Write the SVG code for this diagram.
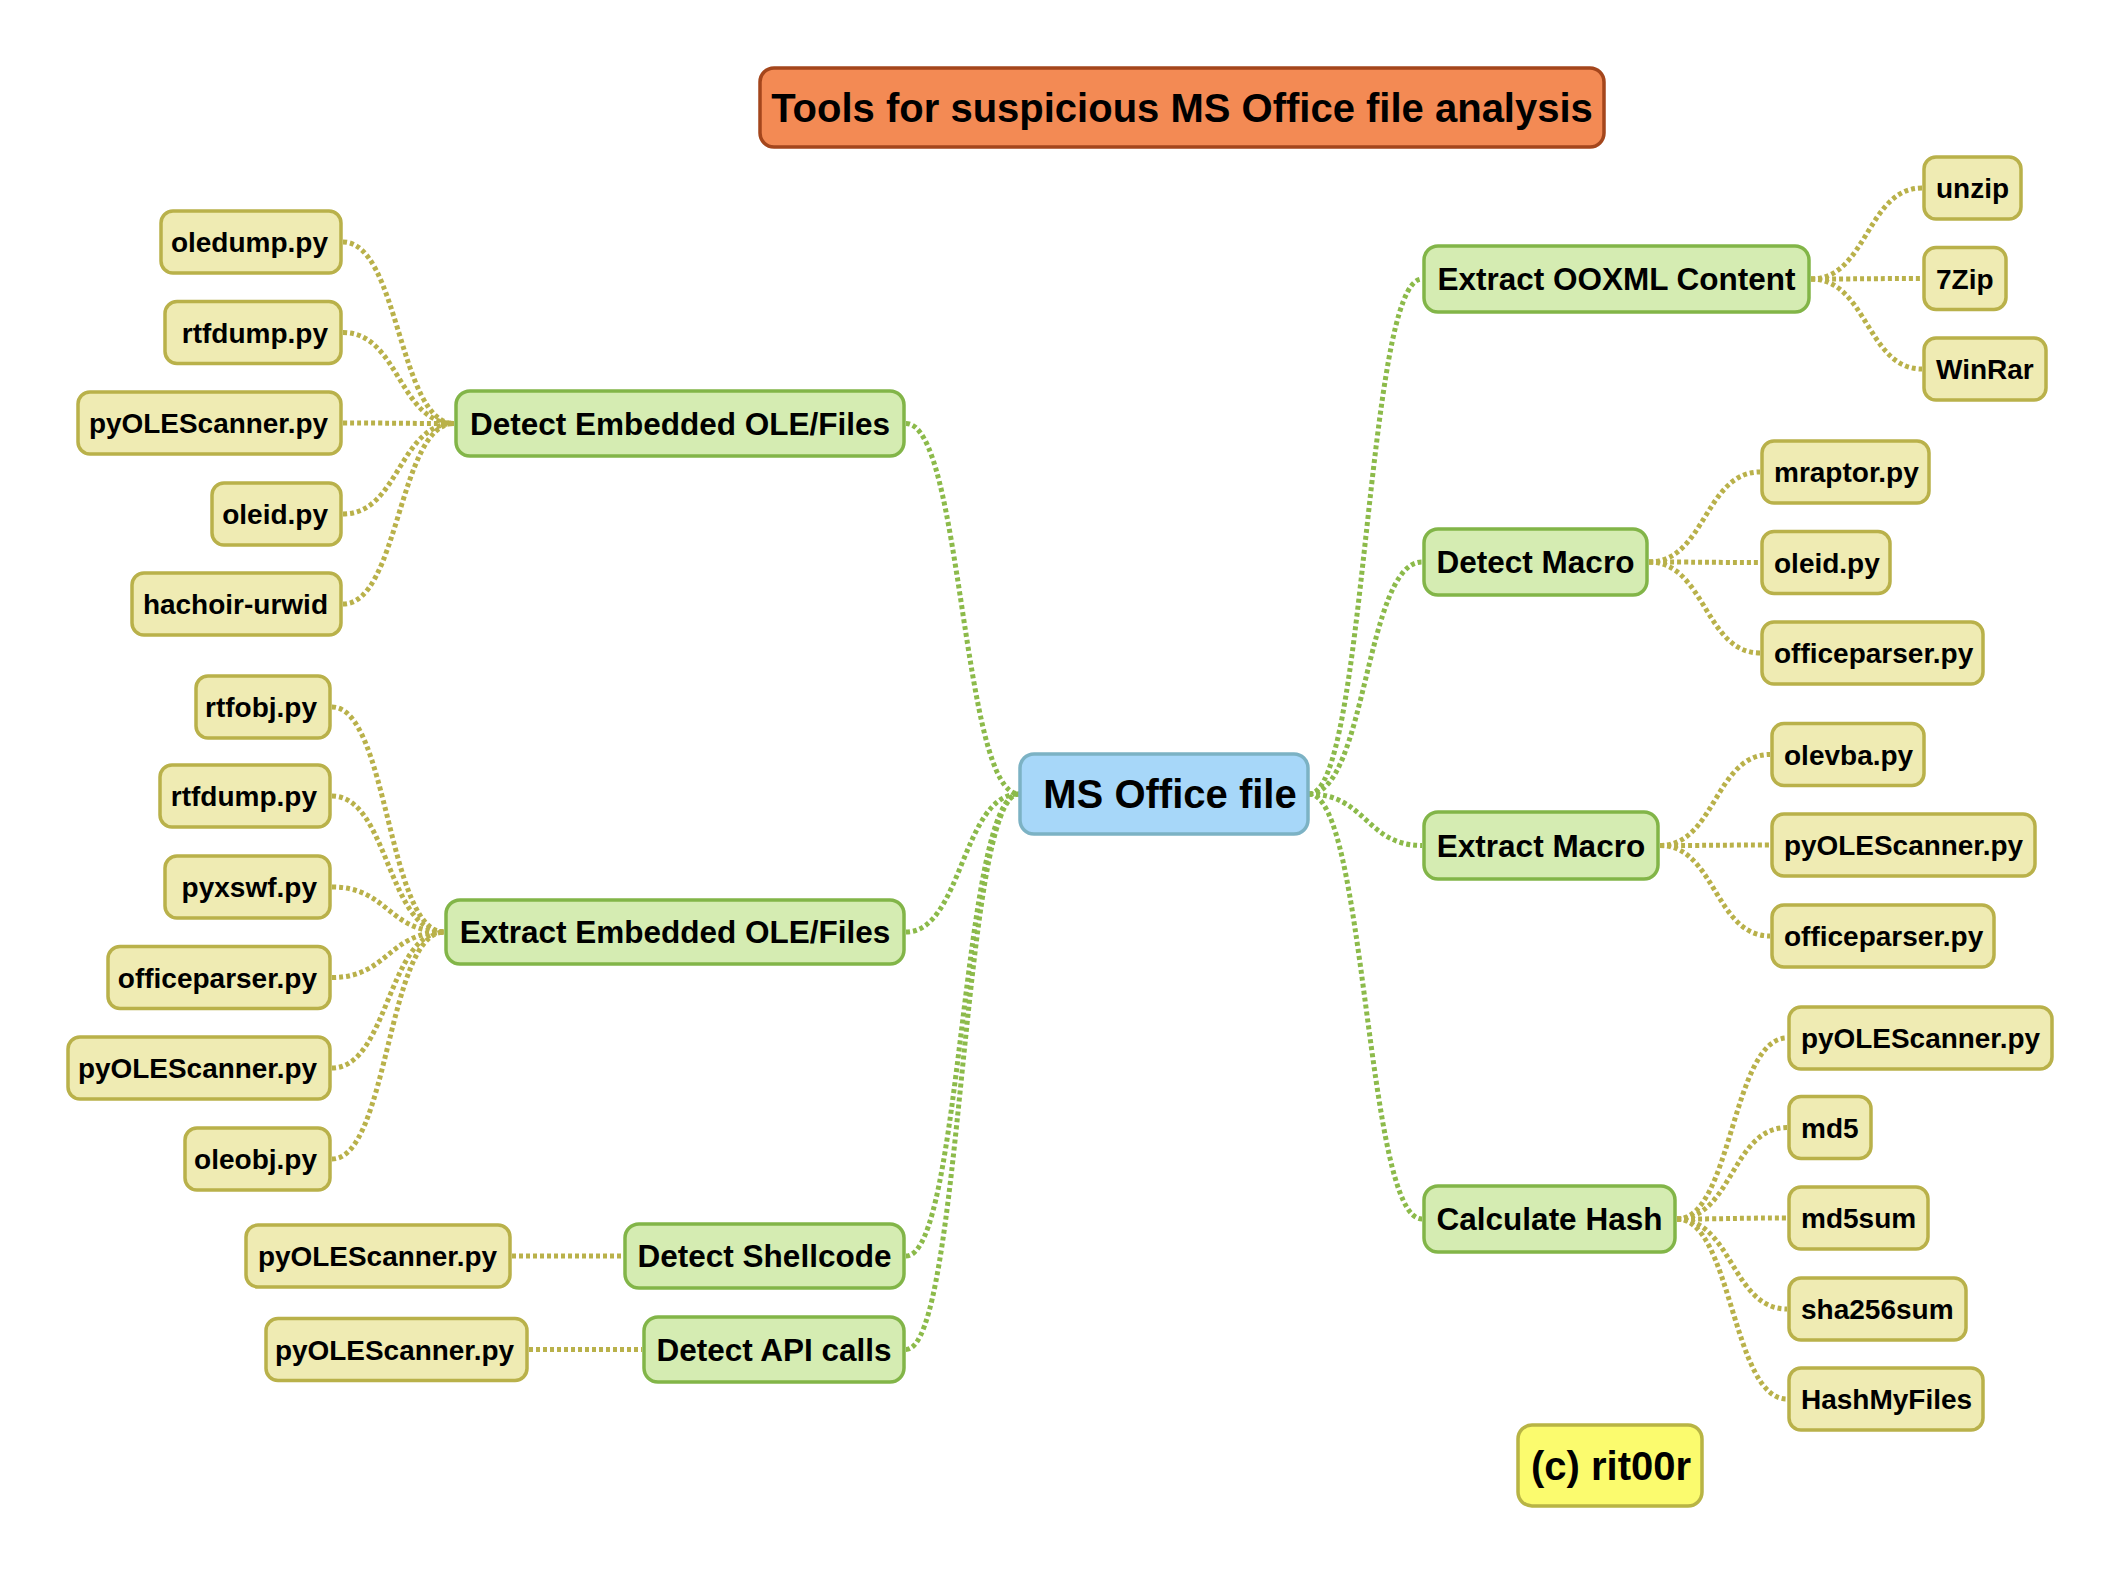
<svg xmlns="http://www.w3.org/2000/svg" width="2120" height="1574" viewBox="0 0 2120 1574">
<style>
text{font-family:"Liberation Sans",Arial,sans-serif;font-weight:bold;fill:#000}
.leaf rect{fill:#efebb3;stroke:#b9b14a;stroke-width:3.5}
.leaf text{font-size:28px}
.node rect{fill:#d5ecb2;stroke:#82b548;stroke-width:3.5}
.node text{font-size:31.5px;text-anchor:middle}
.lc{fill:none;stroke:#b9b14a;stroke-width:5;stroke-dasharray:4 3}
.nc{fill:none;stroke:#8cba4a;stroke-width:5;stroke-dasharray:4 3}
.l text{text-anchor:end}
.r text{text-anchor:start}
</style>
<rect x="0" y="0" width="2120" height="1574" fill="#fff"/>
<g id="connectors">
<!-- center to left nodes -->
<path class="nc" d="M906 423.5 C962 423.5 962 794 1019 794"/>
<path class="nc" d="M906 932 C962 932 962 794 1019 794"/>
<path class="nc" d="M906 1256 C962 1256 962 794 1019 794"/>
<path class="nc" d="M906 1349.5 C962 1349.5 962 794 1019 794"/>
<!-- center to right nodes -->
<path class="nc" d="M1309 794 C1366 794 1366 279 1422 279"/>
<path class="nc" d="M1309 794 C1366 794 1366 562 1422 562"/>
<path class="nc" d="M1309 794 C1366 794 1366 845.5 1422 845.5"/>
<path class="nc" d="M1309 794 C1366 794 1366 1219 1422 1219"/>
<!-- Detect Embedded leaves -->
<path class="lc" d="M343 242 C399 242 399 423.5 454 423.5"/>
<path class="lc" d="M343 332.5 C399 332.5 399 423.5 454 423.5"/>
<path class="lc" d="M343 423 C399 423 399 423.5 454 423.5"/>
<path class="lc" d="M343 514 C399 514 399 423.5 454 423.5"/>
<path class="lc" d="M343 604 C399 604 399 423.5 454 423.5"/>
<!-- Extract Embedded leaves -->
<path class="lc" d="M332 707 C388 707 388 932 444 932"/>
<path class="lc" d="M332 796 C388 796 388 932 444 932"/>
<path class="lc" d="M332 887 C388 887 388 932 444 932"/>
<path class="lc" d="M332 977.5 C388 977.5 388 932 444 932"/>
<path class="lc" d="M332 1068 C388 1068 388 932 444 932"/>
<path class="lc" d="M332 1159 C388 1159 388 932 444 932"/>
<!-- Shellcode / API -->
<path class="lc" d="M512 1256 L623 1256"/>
<path class="lc" d="M529 1349.5 L642 1349.5"/>
<!-- OOXML leaves -->
<path class="lc" d="M1811 279 C1867 279 1867 188 1922 188"/>
<path class="lc" d="M1811 279 C1867 279 1867 278.5 1922 278.5"/>
<path class="lc" d="M1811 279 C1867 279 1867 369 1922 369"/>
<!-- Detect Macro leaves -->
<path class="lc" d="M1649 562 C1705 562 1705 472 1760 472"/>
<path class="lc" d="M1649 562 C1705 562 1705 562.5 1760 562.5"/>
<path class="lc" d="M1649 562 C1705 562 1705 653 1760 653"/>
<!-- Extract Macro leaves -->
<path class="lc" d="M1660 845.5 C1715 845.5 1715 754.5 1770 754.5"/>
<path class="lc" d="M1660 845.5 C1715 845.5 1715 845 1770 845"/>
<path class="lc" d="M1660 845.5 C1715 845.5 1715 936 1770 936"/>
<!-- Calc Hash leaves -->
<path class="lc" d="M1677 1219 C1732 1219 1732 1038 1787 1038"/>
<path class="lc" d="M1677 1219 C1732 1219 1732 1127.5 1787 1127.5"/>
<path class="lc" d="M1677 1219 C1732 1219 1732 1218 1787 1218"/>
<path class="lc" d="M1677 1219 C1732 1219 1732 1309 1787 1309"/>
<path class="lc" d="M1677 1219 C1732 1219 1732 1399 1787 1399"/>
</g>

<g id="title">
<rect x="760" y="68" width="844" height="79" rx="14" fill="#f38a54" stroke="#a4461c" stroke-width="3.5"/>
<text x="1182" y="122" font-size="40" text-anchor="middle">Tools for suspicious MS Office file analysis</text>
</g>
<g id="center">
<rect x="1020" y="754" width="288" height="80" rx="14" fill="#a7d7f9" stroke="#7cb2c4" stroke-width="3.5"/>
<text x="1170" y="808" font-size="40" text-anchor="middle">MS Office file</text>
</g>
<g id="copyright">
<rect x="1518" y="1425" width="184" height="81" rx="14" fill="#fbfb6e" stroke="#b8b444" stroke-width="3.5"/>
<text x="1611" y="1480" font-size="40" text-anchor="middle">(c) rit00r</text>
</g>

<g id="n-detect-embedded" class="node"><rect x="456" y="391" width="448" height="65" rx="14"/><text x="680" y="434.5">Detect Embedded OLE/Files</text></g>
<g id="n-extract-embedded" class="node"><rect x="446" y="900" width="458" height="64" rx="14"/><text x="675" y="943">Extract Embedded OLE/Files</text></g>
<g id="n-detect-shellcode" class="node"><rect x="625" y="1224" width="279" height="64" rx="14"/><text x="764.5" y="1267">Detect Shellcode</text></g>
<g id="n-detect-api" class="node"><rect x="644" y="1317" width="260" height="65" rx="14"/><text x="774" y="1360.5">Detect API calls</text></g>
<g id="n-extract-ooxml" class="node"><rect x="1424" y="246" width="385" height="66" rx="14"/><text x="1616.5" y="290">Extract OOXML Content</text></g>
<g id="n-detect-macro" class="node"><rect x="1424" y="529" width="223" height="66" rx="14"/><text x="1535.5" y="573">Detect Macro</text></g>
<g id="n-extract-macro" class="node"><rect x="1424" y="812" width="234" height="67" rx="14"/><text x="1541" y="856.5">Extract Macro</text></g>
<g id="n-calc-hash" class="node"><rect x="1424" y="1186" width="251" height="66" rx="14"/><text x="1549.5" y="1230">Calculate Hash</text></g>

<g id="l-oledump" class="leaf l"><rect x="161" y="211" width="180" height="62" rx="12"/><text x="328" y="252">oledump.py</text></g>
<g id="l-rtfdump1" class="leaf l"><rect x="165" y="301.5" width="176" height="62" rx="12"/><text x="328" y="342.5">rtfdump.py</text></g>
<g id="l-pyole1" class="leaf l"><rect x="78" y="392" width="263" height="62" rx="12"/><text x="328" y="433" textLength="239" lengthAdjust="spacingAndGlyphs">pyOLEScanner.py</text></g>
<g id="l-oleid1" class="leaf l"><rect x="212" y="483" width="129" height="62" rx="12"/><text x="328" y="524">oleid.py</text></g>
<g id="l-hachoir" class="leaf l"><rect x="132" y="573" width="209" height="62" rx="12"/><text x="328" y="614">hachoir-urwid</text></g>

<g id="l-rtfobj" class="leaf l"><rect x="196" y="676" width="134" height="62" rx="12"/><text x="317" y="717">rtfobj.py</text></g>
<g id="l-rtfdump2" class="leaf l"><rect x="160" y="765" width="170" height="62" rx="12"/><text x="317" y="806">rtfdump.py</text></g>
<g id="l-pyxswf" class="leaf l"><rect x="165" y="856" width="165" height="62" rx="12"/><text x="317" y="897">pyxswf.py</text></g>
<g id="l-officeparser1" class="leaf l"><rect x="108" y="946.5" width="222" height="62" rx="12"/><text x="317" y="987.5">officeparser.py</text></g>
<g id="l-pyole2" class="leaf l"><rect x="68" y="1037" width="262" height="62" rx="12"/><text x="317" y="1078" textLength="239" lengthAdjust="spacingAndGlyphs">pyOLEScanner.py</text></g>
<g id="l-oleobj" class="leaf l"><rect x="185" y="1128" width="145" height="62" rx="12"/><text x="317" y="1169">oleobj.py</text></g>

<g id="l-pyole3" class="leaf l"><rect x="246" y="1225" width="264" height="62" rx="12"/><text x="497" y="1266" textLength="239" lengthAdjust="spacingAndGlyphs">pyOLEScanner.py</text></g>
<g id="l-pyole4" class="leaf l"><rect x="266" y="1318.5" width="261" height="62" rx="12"/><text x="514" y="1359.5" textLength="239" lengthAdjust="spacingAndGlyphs">pyOLEScanner.py</text></g>

<g id="l-unzip" class="leaf r"><rect x="1924" y="157" width="97" height="62" rx="12"/><text x="1936" y="198">unzip</text></g>
<g id="l-7zip" class="leaf r"><rect x="1924" y="247.5" width="82" height="62" rx="12"/><text x="1936" y="288.5">7Zip</text></g>
<g id="l-winrar" class="leaf r"><rect x="1924" y="338" width="122" height="62" rx="12"/><text x="1936" y="379">WinRar</text></g>

<g id="l-mraptor" class="leaf r"><rect x="1762" y="441" width="167" height="62" rx="12"/><text x="1774" y="482">mraptor.py</text></g>
<g id="l-oleid2" class="leaf r"><rect x="1762" y="531.5" width="128" height="62" rx="12"/><text x="1774" y="572.5">oleid.py</text></g>
<g id="l-officeparser2" class="leaf r"><rect x="1762" y="622" width="221" height="62" rx="12"/><text x="1774" y="663">officeparser.py</text></g>

<g id="l-olevba" class="leaf r"><rect x="1772" y="723.5" width="152" height="62" rx="12"/><text x="1784" y="764.5">olevba.py</text></g>
<g id="l-pyole5" class="leaf r"><rect x="1772" y="814" width="263" height="62" rx="12"/><text x="1784" y="855" textLength="239" lengthAdjust="spacingAndGlyphs">pyOLEScanner.py</text></g>
<g id="l-officeparser3" class="leaf r"><rect x="1772" y="905" width="222" height="62" rx="12"/><text x="1784" y="946">officeparser.py</text></g>

<g id="l-pyole6" class="leaf r"><rect x="1789" y="1007" width="263" height="62" rx="12"/><text x="1801" y="1048" textLength="239" lengthAdjust="spacingAndGlyphs">pyOLEScanner.py</text></g>
<g id="l-md5" class="leaf r"><rect x="1789" y="1096.5" width="82" height="62" rx="12"/><text x="1801" y="1137.5">md5</text></g>
<g id="l-md5sum" class="leaf r"><rect x="1789" y="1187" width="139" height="62" rx="12"/><text x="1801" y="1228">md5sum</text></g>
<g id="l-sha256sum" class="leaf r"><rect x="1789" y="1278" width="177" height="62" rx="12"/><text x="1801" y="1319">sha256sum</text></g>
<g id="l-hashmyfiles" class="leaf r"><rect x="1789" y="1368" width="194" height="62" rx="12"/><text x="1801" y="1409">HashMyFiles</text></g>
</svg>
